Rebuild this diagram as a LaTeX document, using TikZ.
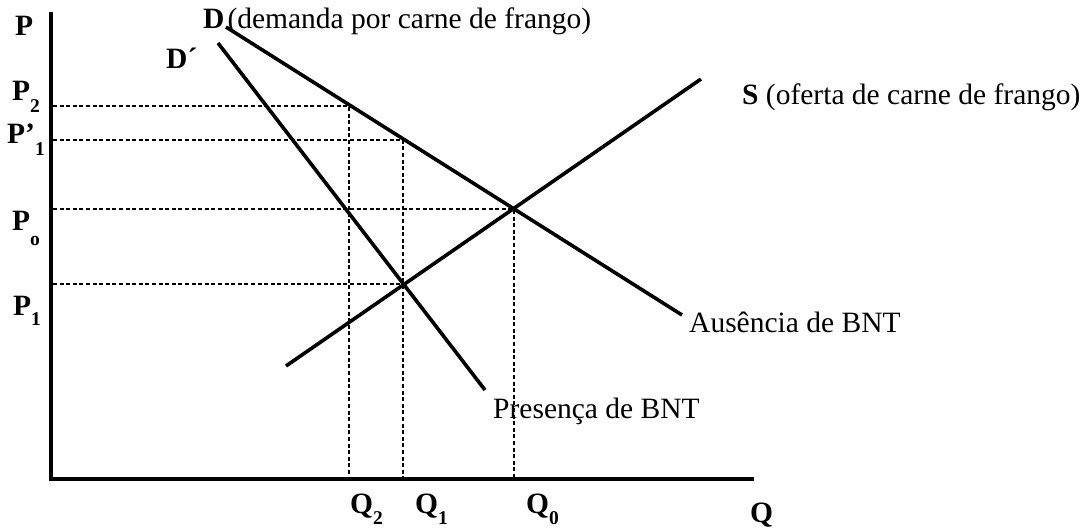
\documentclass[tikz,border=0pt]{standalone}
\usepackage{fontspec}
\setmainfont{Liberation Serif}
\newcommand{\subsz}{\fontsize{19.5}{20}\selectfont\bfseries}
\begin{document}
\begin{tikzpicture}[x=1pt,y=-1pt,
  lbl/.style={anchor=base west, inner sep=0pt, font=\fontsize{29.5}{32}\selectfont},
  blbl/.style={anchor=base west, inner sep=0pt, font=\fontsize{29.5}{32}\selectfont\bfseries},
  axisline/.style={line width=4pt, line join=miter},
  curve/.style={line width=3.6pt},
  guide/.style={line width=2.3pt, dash pattern=on 4pt off 2.6pt}]
\useasboundingbox (0,0) rectangle (1087,530);
% axes
\coordinate (O) at (51,479);
\coordinate (Ytop) at (51,12);
\coordinate (Xend) at (754,479);
\draw[axisline] (Ytop) -- (O) -- (Xend);
% curves
\coordinate (Dtop) at (226,27);
\coordinate (Dbot) at (682,315);
\coordinate (Dptop) at (218,43);
\coordinate (Dpbot) at (485,390);
\coordinate (Sbot) at (286,366);
\coordinate (Stop) at (701,79);
% key points
\coordinate (A2) at (349,106);
\coordinate (A1) at (403,140);
\coordinate (E0) at (514,209);
\coordinate (E1) at (403,284);
\coordinate (yA2) at (53,106);
\coordinate (yA1) at (53,140);
\coordinate (yE0) at (53,209);
\coordinate (yE1) at (53,284);
\coordinate (xA2) at (349,477);
\coordinate (xA1) at (403,477);
\coordinate (xE0) at (514,477);
% guides
\draw[guide] (yA2) -- (A2) -- (xA2);
\draw[guide] (yA1) -- (A1) -- (xA1);
\draw[guide] (yE0) -- (E0) -- (xE0);
\draw[guide] (yE1) -- (E1);
% lines
\draw[curve] (Dtop) -- (Dbot);
\draw[curve] (Dptop) -- (Dpbot);
\draw[curve] (Sbot) -- (Stop);
% labels
\node[blbl] (lP) at (15,35) {P};
\node[blbl] (lQ) at (750,522) {Q};
\node[lbl] (lD) at (203,28) {\textbf{D}\hspace{3pt}(demanda por carne de frango)};
\node[blbl] (lDp) at (166,68) {D´};
\node[lbl] (lS) at (742,104) {\textbf{S} (oferta de carne de frango)};
\node[lbl] (lAus) at (689,332) {Ausência de BNT};
\node[lbl] (lPres) at (493,418) {Presença de BNT};
\node[blbl] (lP2) at (12,100) {P\raisebox{-12pt}{\subsz 2}};
\node[blbl] (lP1p) at (7,143) {P’\raisebox{-12pt}{\subsz 1}};
\node[blbl] (lP0) at (12,230) {P\raisebox{-15pt}{\subsz o}};
\node[blbl] (lP1) at (13,315) {P\raisebox{-10pt}{\subsz 1}};
\node[blbl] (lQ2) at (350,513) {Q\raisebox{-11pt}{\subsz 2}};
\node[blbl] (lQ1) at (415,513) {Q\raisebox{-11pt}{\subsz 1}};
\node[blbl] (lQ0) at (526,513) {Q\raisebox{-11pt}{\subsz 0}};
\end{tikzpicture}
\end{document}
